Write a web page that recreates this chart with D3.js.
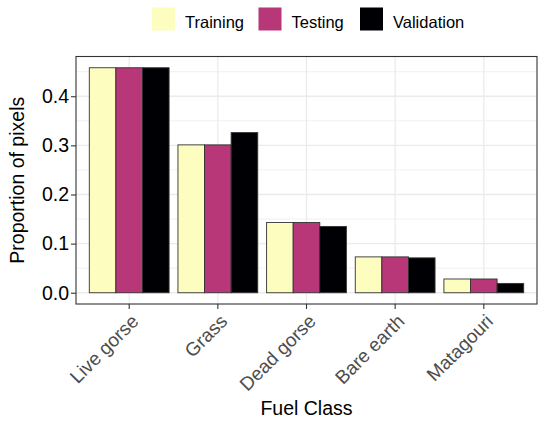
<!DOCTYPE html>
<html>
<head>
<meta charset="utf-8">
<script src="https://cdn.jsdelivr.net/npm/d3@7"></script>
<style>
  body { margin: 0; background: #fff; }
  svg text { font-family: "Liberation Sans", Arial, sans-serif; }
</style>
</head>
<body>
<svg id="plot"></svg>
<script>
var categories = ['Live gorse', 'Grass', 'Dead gorse', 'Bare earth', 'Matagouri'];
var seriesNames = ['Training', 'Testing', 'Validation'];
var training = [0.458, 0.301, 0.143, 0.073, 0.028];
var testing = [0.458, 0.301, 0.143, 0.073, 0.028];
var validation = [0.458, 0.326, 0.135, 0.071, 0.019];
var yTicks = [0.0, 0.1, 0.2, 0.3, 0.4];
var yMinor = [0.05, 0.15, 0.25, 0.35, 0.45];

var width = 550,
    height = 423,
    pLeft = 76, pRight = 537, pTop = 56.5, pBottom = 304;

var colors = {Training: '#FCFDBF', Testing: '#B73779', Validation: '#000004'};

var data = categories.map(function(c, i){
  return {cat: c, values: [
    {key: 'Training', v: training[i]},
    {key: 'Testing', v: testing[i]},
    {key: 'Validation', v: validation[i]}
  ]};
});

var svg = d3.select('#plot')
  .attr('width', width)
  .attr('height', height);

var maxV = d3.max([].concat(training, testing, validation));
var pad = maxV * 0.05;

var xScale = d3.scaleBand()
  .domain(categories)
  .range([pLeft, pRight])
  .paddingInner(0.1)
  .paddingOuter(0.15);
var subScale = d3.scaleBand()
  .domain(seriesNames)
  .range([0, xScale.bandwidth()]);
var yScale = d3.scaleLinear()
  .domain([-pad, maxV + pad])
  .range([pBottom, pTop]);

// grid
var grid = svg.append('g');
grid.selectAll('.minor')
  .data(yMinor.filter(d => yScale(d) > pTop))
  .enter().append('line')
    .attr('x1', pLeft).attr('x2', pRight)
    .attr('y1', d => yScale(d)).attr('y2', d => yScale(d))
    .attr('stroke', '#EBEBEB').attr('stroke-width', 0.7);
grid.selectAll('.major')
  .data(yTicks)
  .enter().append('line')
    .attr('x1', pLeft).attr('x2', pRight)
    .attr('y1', d => yScale(d)).attr('y2', d => yScale(d))
    .attr('stroke', '#EBEBEB').attr('stroke-width', 1.3);
grid.selectAll('.vmajor')
  .data(categories)
  .enter().append('line')
    .attr('x1', d => xScale(d) + xScale.bandwidth() / 2)
    .attr('x2', d => xScale(d) + xScale.bandwidth() / 2)
    .attr('y1', pTop).attr('y2', pBottom)
    .attr('stroke', '#EBEBEB').attr('stroke-width', 1.3);

// bars
svg.append('g')
  .selectAll('g')
  .data(data)
  .enter().append('g')
    .attr('transform', d => 'translate(' + xScale(d.cat) + ',0)')
  .selectAll('rect')
  .data(d => d.values)
  .enter().append('rect')
    .attr('x', d => subScale(d.key))
    .attr('width', subScale.bandwidth())
    .attr('y', d => yScale(d.v))
    .attr('height', d => yScale(0) - yScale(d.v))
    .attr('fill', d => colors[d.key])
    .attr('stroke', '#333333')
    .attr('stroke-width', 0.9);

// panel border
svg.append('rect')
  .attr('x', pLeft).attr('y', pTop)
  .attr('width', pRight - pLeft).attr('height', pBottom - pTop)
  .attr('fill', 'none')
  .attr('stroke', '#333333')
  .attr('stroke-width', 1.1);

// axes
var yAxis = d3.axisLeft(yScale)
  .tickValues(yTicks)
  .tickFormat(d3.format('.1f'))
  .tickSize(5)
  .tickPadding(2);
var gy = svg.append('g')
  .attr('transform', 'translate(' + pLeft + ',0)')
  .call(yAxis);
gy.select('.domain').remove();
gy.selectAll('line').attr('stroke', '#333333').attr('stroke-width', 1.1);
gy.selectAll('text')
  .attr('fill', '#000')
  .style('font-size', '19.5px');

var xAxis = d3.axisBottom(xScale).tickSize(5).tickSizeOuter(0);
var gx = svg.append('g')
  .attr('transform', 'translate(0,' + pBottom + ')')
  .call(xAxis);
gx.select('.domain').remove();
gx.selectAll('line').attr('stroke', '#333333').attr('stroke-width', 1.1);
gx.selectAll('text')
  .attr('fill', '#4D4D4D')
  .style('font-size', '19px')
  .style('text-anchor', 'end')
  .attr('y', 0)
  .attr('dy', '0.71em')
  .attr('transform', 'translate(1,9) rotate(-45)');

// titles
svg.append('text')
  .attr('transform', 'translate(23.5,' + ((pTop + pBottom) / 2) + ') rotate(-90)')
  .style('text-anchor', 'middle')
  .style('font-size', '19.5px')
  .attr('fill', '#000')
  .text('Proportion of pixels');
svg.append('text')
  .attr('x', (pLeft + pRight) / 2)
  .attr('y', 415)
  .style('text-anchor', 'middle')
  .style('font-size', '19.5px')
  .attr('fill', '#000')
  .text('Fuel Class');

// legend
var legendX = [152, 258.5, 360];
var legend = svg.append('g')
  .selectAll('g')
  .data(seriesNames)
  .enter().append('g')
    .attr('transform', (d, i) => 'translate(' + legendX[i] + ',7.5)');
legend.append('rect')
  .attr('width', 23).attr('height', 23)
  .attr('fill', d => colors[d]);
legend.append('text')
  .attr('x', 33)
  .attr('y', 20.5)
  .style('font-size', '16.5px')
  .attr('fill', '#000')
  .text(d => d);
</script>
</body>
</html>
